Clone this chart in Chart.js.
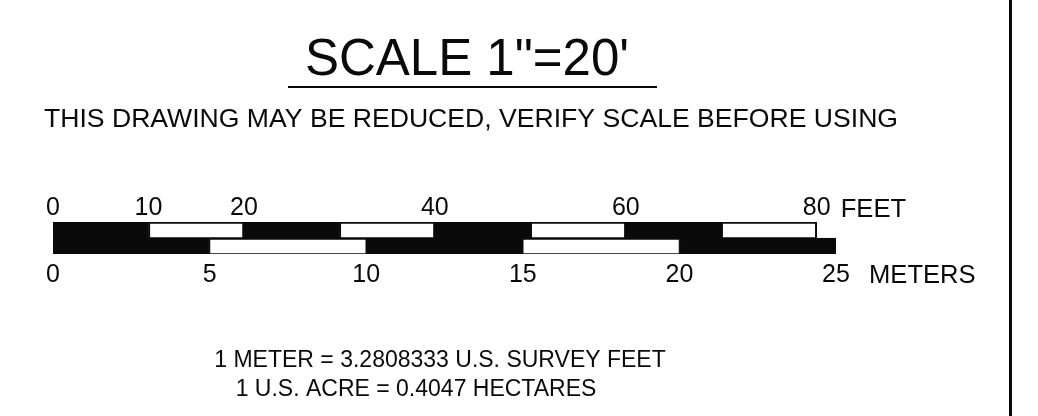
<!DOCTYPE html>
<html>
<head>
<meta charset="utf-8">
<title>Scale 1"=20'</title>
<script src="https://cdn.jsdelivr.net/npm/chart.js@4.4.1/dist/chart.umd.min.js"></script>
<style>
  html, body { margin: 0; padding: 0; background: #fff; }
  #wrap { position: relative; width: 1038px; height: 416px; }
</style>
</head>
<body>
<div id="wrap"><canvas id="scaleBar"></canvas></div>
<script>
/* global Chart */

// graphic scale data
const FEET_PER_METER = 3.2808333;
const rowLabels = ["FEET", "METERS"];
const feetStops = [0, 10, 20, 30, 40, 50, 60, 70, 80];
const meterStops = [0, 5, 10, 15, 20, 25];
const feetTickLabels = [0, 10, 20, 40, 60, 80];
const meterTickLabels = [0, 5, 10, 15, 20, 25];
const titleText = "SCALE 1\"=20'";
const warningText = "THIS DRAWING MAY BE REDUCED, VERIFY SCALE BEFORE USING";
const noteLines = [
  "1 METER = 3.2808333 U.S. SURVEY FEET",
  "1 U.S. ACRE = 0.4047 HECTARES"
];

const ink = "#0a0a0a";
const fontFamily = "'Liberation Sans', Arial, Helvetica, sans-serif";
Chart.defaults.font.family = fontFamily;
Chart.defaults.color = ink;

// one floating bar per alternating band of the scale
function segments(stops, row) {
  const out = [];
  for (let i = 0; i < stops.length - 1; i++) {
    out.push({ x: [stops[i], stops[i + 1]], y: row });
  }
  return out;
}

const bandColor = ctx => (ctx.dataIndex % 2 ? "#ffffff" : ink);

// headings, unit names, notes and the sheet border line
const sheetText = {
  id: "sheetText",
  afterDraw: chart => {
    const ctx = chart.ctx;
    const xf = chart.scales.xf;
    const xm = chart.scales.xm;
    ctx.save();
    ctx.fillStyle = ink;
    ctx.textBaseline = "alphabetic";
    ctx.textAlign = "center";

    ctx.font = `51px ${fontFamily}`;
    ctx.fillText(titleText, 467, 75);
    ctx.fillRect(288, 86, 369, 2);

    ctx.font = `26.6px ${fontFamily}`;
    ctx.fillText(warningText, 471, 127);

    ctx.font = `23px ${fontFamily}`;
    ctx.fillText(noteLines[0], 440, 367);
    ctx.fillText(noteLines[1], 416, 396);

    ctx.textAlign = "left";
    ctx.font = `25.6px ${fontFamily}`;
    ctx.fillText(rowLabels[0], xf.getPixelForValue(feetStops[feetStops.length - 1]) + 24, 217);
    ctx.fillText(rowLabels[1], xm.getPixelForValue(meterStops[meterStops.length - 1]) + 33, 283);

    ctx.fillRect(1009, 0, 3, chart.height);
    ctx.restore();
  }
};

const tickFont = { size: 25, lineHeight: 1.1 };

// eslint-disable-next-line no-new
new Chart(document.getElementById("scaleBar"), {
  type: "bar",
  plugins: [sheetText],
  data: {
    labels: rowLabels,
    datasets: [
      {
        label: "Feet",
        data: segments(feetStops, rowLabels[0]),
        xAxisID: "xf",
        yAxisID: "y",
        backgroundColor: bandColor,
        borderColor: ink,
        borderWidth: { top: 2, bottom: 1, left: 2, right: 2 },
        borderSkipped: false,
        grouped: false,
        barPercentage: 1,
        categoryPercentage: 1
      },
      {
        label: "Meters",
        data: segments(meterStops, rowLabels[1]),
        xAxisID: "xm",
        yAxisID: "y",
        backgroundColor: bandColor,
        borderColor: ink,
        borderWidth: { top: 2, bottom: 1, left: 1, right: 1 },
        borderSkipped: false,
        grouped: false,
        barPercentage: 1,
        categoryPercentage: 1
      }
    ]
  },
  options: {
    indexAxis: "y",
    animation: false,
    responsive: true,
    maintainAspectRatio: false,
    layout: {
      padding: { left: 53, right: 202, top: 192, bottom: 122 }
    },
    plugins: {
      legend: { display: false },
      tooltip: { enabled: false }
    },
    scales: {
      y: {
        type: "category",
        display: false
      },
      xf: {
        type: "linear",
        position: "top",
        min: 0,
        max: meterStops[meterStops.length - 1] * FEET_PER_METER,
        grid: { display: false, drawTicks: false, tickLength: 0 },
        border: { display: false },
        afterBuildTicks: scale => {
          scale.ticks = feetTickLabels.map(v => ({ value: v }));
        },
        afterFit: scale => {
          scale.height = 30;
        },
        ticks: {
          autoSkip: false,
          maxRotation: 0,
          padding: 0,
          color: ink,
          font: tickFont
        }
      },
      xm: {
        type: "linear",
        position: "bottom",
        min: 0,
        max: meterStops[meterStops.length - 1],
        grid: { display: false, drawTicks: false, tickLength: 0 },
        border: { display: false },
        afterBuildTicks: scale => {
          scale.ticks = meterTickLabels.map(v => ({ value: v }));
        },
        afterFit: scale => {
          scale.height = 40;
        },
        ticks: {
          autoSkip: false,
          maxRotation: 0,
          padding: 7,
          color: ink,
          font: tickFont
        }
      }
    }
  }
});
</script>
</body>
</html>
